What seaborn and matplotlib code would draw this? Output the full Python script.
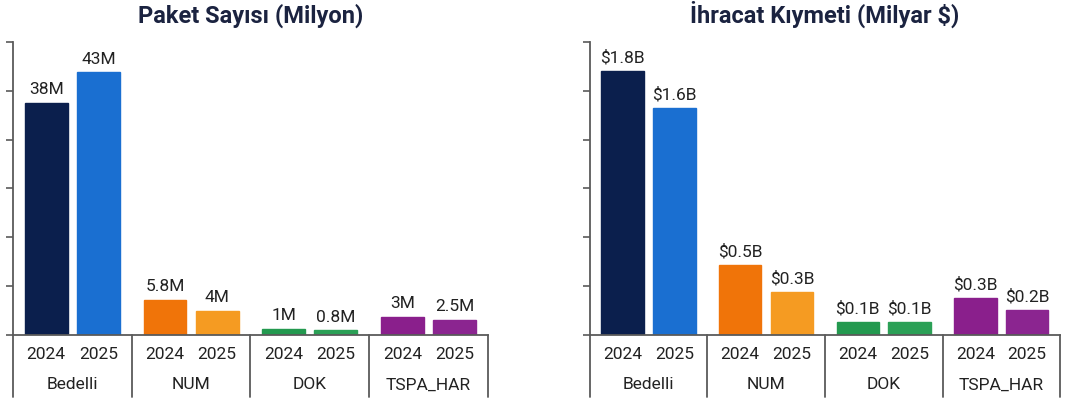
import numpy as np
import pandas as pd
import matplotlib
matplotlib.use("Agg")
import matplotlib.pyplot as plt
import matplotlib.transforms as mtransforms
import seaborn as sns

# veri
categories = ["Bedelli", "NUM", "DOK", "TSPA_HAR"]
years = ["2024", "2025"]

paket_2024 = [38, 5.8, 1, 3]
paket_2025 = [43, 4, 0.8, 2.5]
paket_labels_2024 = ["38M", "5.8M", "1M", "3M"]
paket_labels_2025 = ["43M", "4M", "0.8M", "2.5M"]

ihracat_2024 = [1.8, 0.48, 0.09, 0.25]
ihracat_2025 = [1.55, 0.29, 0.09, 0.17]
ihracat_labels_2024 = ["$1.8B", "$0.5B", "$0.1B", "$0.3B"]
ihracat_labels_2025 = ["$1.6B", "$0.3B", "$0.1B", "$0.2B"]

colors_2024 = ["#0b1f4d", "#f07409", "#23994f", "#8a1f8c"]
colors_2025 = ["#1a6fd1", "#f59b22", "#2ba056", "#8b2590"]

sns.set_theme(style="white")
plt.rcParams["font.family"] = ["Roboto", "DejaVu Sans"]

AXIS_COLOR = "#5a5a5a"
TEXT_COLOR = "#222222"


def grouped_panel(ax, vals_a, vals_b, labels_a, labels_b, title, ymax):
    df = pd.DataFrame({
        "Kategori": categories * 2,
        "Yil": [years[0]] * len(categories) + [years[1]] * len(categories),
        "Deger": list(vals_a) + list(vals_b),
    })
    sns.barplot(data=df, x="Kategori", y="Deger", hue="Yil", ax=ax,
                width=0.88, gap=0.18, legend=False, saturation=1,
                errorbar=None)
    # her kategoriye kendi rengi
    for cont, cols, labs in zip(ax.containers, [colors_2024, colors_2025],
                                [labels_a, labels_b]):
        for bar, c in zip(cont.patches, cols):
            bar.set_facecolor(c)
            bar.set_edgecolor(c)
        ax.bar_label(cont, labels=labs, padding=4, fontsize=12.5,
                     color=TEXT_COLOR)

    n = len(categories)
    ax.set_xlim(-0.5, n - 0.5)
    ax.set_ylim(0, ymax)
    ax.set_yticks(np.linspace(0, ymax, 7))
    ax.set_yticklabels([])
    ax.tick_params(axis="y", left=True, length=5, width=1.2, color=AXIS_COLOR,
                   direction="out")
    ax.set_xticks([])
    ax.set_xlabel("")
    ax.set_ylabel("")
    for s in ["top", "right"]:
        ax.spines[s].set_visible(False)
    for s in ["left", "bottom"]:
        ax.spines[s].set_color(AXIS_COLOR)
        ax.spines[s].set_linewidth(1.3)

    trans = mtransforms.blended_transform_factory(ax.transData, ax.transAxes)
    # yıl etiketleri
    for cont, yr in zip(ax.containers, years):
        for bar in cont.patches:
            cx = bar.get_x() + bar.get_width() / 2
            ax.text(cx, -0.068, yr, transform=trans, ha="center", va="center",
                    fontsize=12.5, color=TEXT_COLOR)
    # grup etiketleri ve ayırıcılar
    for i, cat in enumerate(categories):
        ax.text(i, -0.17, cat, transform=trans, ha="center", va="center",
                fontsize=12.5, color=TEXT_COLOR)
    for i in range(n + 1):
        ax.plot([i - 0.5, i - 0.5], [0, -0.21], transform=trans,
                color=AXIS_COLOR, lw=1.3, clip_on=False)

    ax.set_title(title, fontsize=17, fontweight="bold", color="#1b2340",
                 pad=14)


fig = plt.figure(figsize=(10.84, 4.0), dpi=100)
ax1 = fig.add_axes([0.012, 0.1625, 0.438, 0.733])
ax2 = fig.add_axes([0.544, 0.1625, 0.434, 0.733])

grouped_panel(ax1, paket_2024, paket_2025, paket_labels_2024,
              paket_labels_2025, "Paket Sayısı (Milyon)", 48)
grouped_panel(ax2, ihracat_2024, ihracat_2025, ihracat_labels_2024,
              ihracat_labels_2025, "İhracat Kıymeti (Milyar $)", 2.0)

fig.savefig("out.png", dpi=100)
